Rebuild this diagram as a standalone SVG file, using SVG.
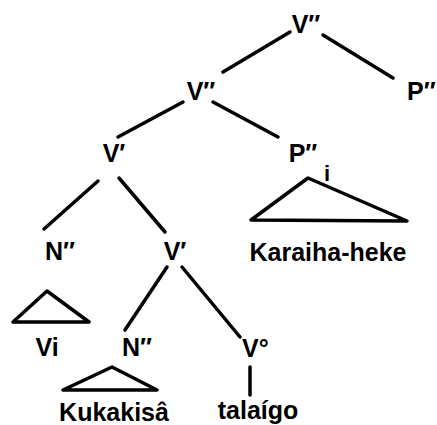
<svg xmlns="http://www.w3.org/2000/svg" width="437" height="425" viewBox="0 0 437 425">
<style>
text{font-family:"Liberation Sans",Arial,sans-serif;font-weight:bold;font-size:25px;fill:#000}
.c{text-anchor:middle}
line,polygon{stroke:#000;stroke-width:3.5;stroke-linecap:round;stroke-linejoin:round;fill:none}
</style>
<rect width="437" height="425" fill="#fff"/>
<g id="connectors">
<line x1="290" y1="32" x2="223" y2="72"/>
<line x1="323" y1="35" x2="393" y2="78"/>
<line x1="183" y1="102" x2="118" y2="137"/>
<line x1="213" y1="102" x2="278" y2="137"/>
<line x1="98" y1="181" x2="44" y2="229"/>
<line x1="119" y1="178" x2="165" y2="232"/>
<line x1="167" y1="267" x2="125" y2="330"/>
<line x1="182" y1="267" x2="240" y2="337"/>
<line x1="250" y1="367" x2="250" y2="395"/>
</g>
<g id="n-vpp-top"><text class="c" x="306" y="33">V″</text></g>
<g id="n-ppp-right"><text x="407" y="100">P″</text></g>
<g id="n-vpp"><text class="c" x="201" y="100">V″</text></g>
<g id="n-vp"><text class="c" x="114" y="162">V′</text></g>
<g id="n-ppp"><text class="c" x="303" y="162">P″</text><text class="c" x="327" y="181" style="font-size:22px">i</text>
<polygon points="308,178 251,220 407,221"/>
<text class="c" x="328" y="261">Karaiha-heke</text></g>
<g id="n-npp"><text class="c" x="60" y="260">N″</text>
<polygon points="47,291 13,322 89,322"/>
<text class="c" x="47" y="356">Vi</text></g>
<g id="n-vp2"><text class="c" x="175" y="260">V′</text></g>
<g id="n-npp2"><text class="c" x="137" y="356">N″</text>
<polygon points="112,367 63,390 157,390"/>
<text class="c" x="114" y="421">Kukakisâ</text></g>
<g id="n-v0"><text x="242" y="357">V°</text>
<text class="c" x="258" y="419">talaígo</text></g>
</svg>
